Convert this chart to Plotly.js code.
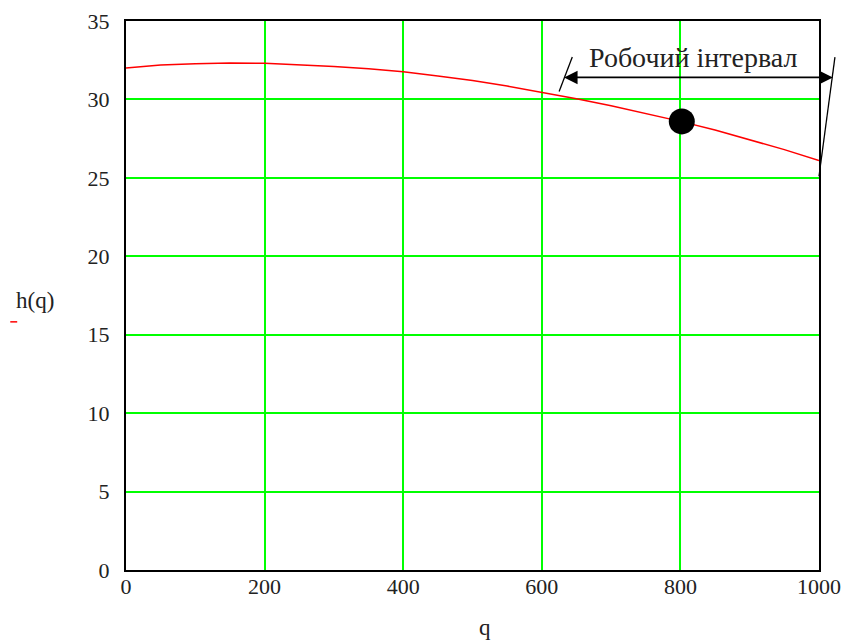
<!DOCTYPE html>
<html>
<head>
<meta charset="utf-8">
<script src="https://cdn.plot.ly/plotly-3.0.1.min.js"></script>
<style>html,body{margin:0;padding:0;background:#fff;}</style>
</head>
<body>
<div id="chart" style="width:850px;height:640px;"></div>
<script>
// Pump head curve h(q)
const qValues = [0, 50, 100, 150, 200, 250, 300, 350, 400, 450, 500, 550, 600, 650, 700, 750, 800, 850, 900, 950, 1000];
const hValues = [32.0, 32.2, 32.28, 32.32, 32.3, 32.22, 32.1, 31.95, 31.76, 31.5, 31.2, 30.85, 30.45, 30.05, 29.6, 29.1, 28.6, 28.05, 27.4, 26.8, 26.1];
const opPointQ = [802];
const opPointH = [28.6];
const intervalStart = 630;
const intervalEnd = 1020;
const intervalArrowH = 31.4;
const intervalLabel = 'Робочий інтервал';
const xTicks = [0, 200, 400, 600, 800, 1000];
const yTicks = [0, 5, 10, 15, 20, 25, 30, 35];
const leftTickLine = {q: [644, 625], h: [32.7, 30.5]};
const rightTickLine = {q: [1023, 1000], h: [32.7, 25.1]};

const xRange = [0, 1000];
const yRange = [0, 35];
const serif = 'Liberation Serif, Times New Roman, serif';
const txt = '#222222';

// paper fractions from data values via the axis ranges (so unclipped shapes can sit outside the plot area)
const px = q => (q - xRange[0]) / (xRange[1] - xRange[0]);
const py = h => (h - yRange[0]) / (yRange[1] - yRange[0]);

const traces = [
  {x: qValues, y: hValues, type: 'scatter', mode: 'lines', line: {color: '#ff0000', width: 1.5}, hoverinfo: 'skip'},
  {x: opPointQ, y: opPointH, type: 'scatter', mode: 'markers', marker: {color: '#000000', size: 26}, hoverinfo: 'skip', cliponaxis: false}
];

const layout = {
  width: 850, height: 640,
  margin: {l: 126, r: 31, t: 21, b: 70},
  paper_bgcolor: '#ffffff', plot_bgcolor: '#ffffff',
  showlegend: false,
  font: {family: serif, color: txt, size: 22},
  xaxis: {
    range: xRange, tickvals: xTicks, ticktext: xTicks.map(String),
    showgrid: true, gridcolor: '#00ff00', gridwidth: 2,
    zeroline: false, showline: true, linecolor: '#000000', linewidth: 2, mirror: true,
    ticks: '', ticklabelstandoff: -4,
    tickfont: {family: serif, size: 22, color: txt}
  },
  yaxis: {
    range: yRange, tickvals: yTicks, ticktext: yTicks.map(String),
    showgrid: true, gridcolor: '#00ff00', gridwidth: 2,
    zeroline: false, showline: true, linecolor: '#000000', linewidth: 2, mirror: true,
    ticks: '', ticklabelstandoff: 10,
    tickfont: {family: serif, size: 22, color: txt}
  },
  shapes: [
    {type: 'line', xref: 'paper', yref: 'paper', x0: px(leftTickLine.q[0]), y0: py(leftTickLine.h[0]), x1: px(leftTickLine.q[1]), y1: py(leftTickLine.h[1]), line: {color: '#000', width: 1.3}},
    {type: 'line', xref: 'paper', yref: 'paper', x0: px(rightTickLine.q[0]), y0: py(rightTickLine.h[0]), x1: px(rightTickLine.q[1]), y1: py(rightTickLine.h[1]), line: {color: '#000', width: 1.3}},
    {type: 'line', xref: 'paper', yref: 'paper', x0: -0.167, x1: -0.157, y0: 0.452, y1: 0.452, line: {color: '#ff0000', width: 1.5}}
  ],
  annotations: [
    {x: intervalEnd, y: intervalArrowH, ax: intervalStart, ay: intervalArrowH, xref: 'x', yref: 'y', axref: 'x', ayref: 'y',
     text: '', showarrow: true, arrowhead: 2, arrowside: 'end+start', arrowsize: 1.5, arrowwidth: 1.8, arrowcolor: '#000'},
    {x: 818, y: 32.7, xref: 'x', yref: 'y', xanchor: 'center', yanchor: 'middle', text: intervalLabel, showarrow: false,
     font: {family: serif, size: 28, color: txt}},
    {x: -0.131, y: 0.49, xref: 'paper', yref: 'paper', xanchor: 'center', yanchor: 'middle', text: 'h(q)', showarrow: false,
     font: {family: serif, size: 23, color: txt}},
    {x: 0.518, y: -0.104, xref: 'paper', yref: 'paper', xanchor: 'center', yanchor: 'middle', text: 'q', showarrow: false,
     font: {family: serif, size: 23, color: txt}}
  ]
};

Plotly.newPlot('chart', traces, layout, {staticPlot: true, displayModeBar: false});
</script>
</body>
</html>
